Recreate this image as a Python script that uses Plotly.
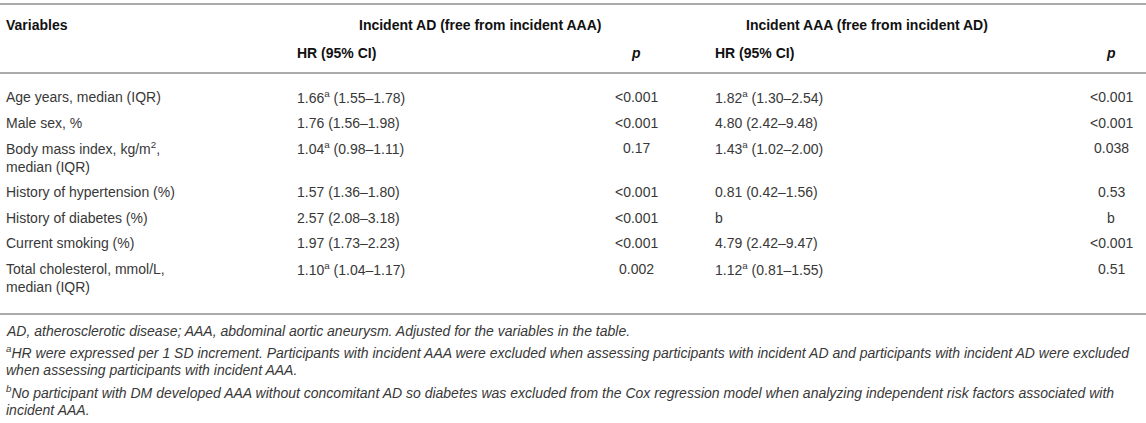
#!/usr/bin/env python3
# -*- coding: utf-8 -*-
"""Cox regression table (incident AD vs incident AAA) drawn with plotly."""

import plotly.graph_objects as go

# --- table data -------------------------------------------------------------
variables = [
    "Age years, median (IQR)",
    "Male sex, %",
    "Body mass index, kg/m<sup>2</sup>,<br>median (IQR)",
    "History of hypertension (%)",
    "History of diabetes (%)",
    "Current smoking (%)",
    "Total cholesterol, mmol/L,<br>median (IQR)",
]
hr_ad = [
    "1.66<sup>a</sup> (1.55–1.78)",
    "1.76 (1.56–1.98)",
    "1.04<sup>a</sup> (0.98–1.11)",
    "1.57 (1.36–1.80)",
    "2.57 (2.08–3.18)",
    "1.97 (1.73–2.23)",
    "1.10<sup>a</sup> (1.04–1.17)",
]
p_ad = ["<0.001", "<0.001", "0.17", "<0.001", "<0.001", "<0.001", "0.002"]
hr_aaa = [
    "1.82<sup>a</sup> (1.30–2.54)",
    "4.80 (2.42–9.48)",
    "1.43<sup>a</sup> (1.02–2.00)",
    "0.81 (0.42–1.56)",
    "b",
    "4.79 (2.42–9.47)",
    "1.12<sup>a</sup> (0.81–1.55)",
]
p_aaa = ["<0.001", "<0.001", "0.038", "0.53", "b", "<0.001", "0.51"]

group_titles = ["Incident AD (free from incident AAA)",
                "Incident AAA (free from incident AD)"]
sub_titles = ["HR (95% CI)", "<i>p</i>", "HR (95% CI)", "<i>p</i>"]

footnotes = [
    "AD, atherosclerotic disease; AAA, abdominal aortic aneurysm. Adjusted for the variables in the table.",
    "<sup>a</sup>HR were expressed per 1 SD increment. Participants with incident AAA were excluded when "
    "assessing participants with incident AD and participants with incident AD were excluded",
    "when assessing participants with incident AAA.",
    "<sup>b</sup>No participant with DM developed AAA without concomitant AD so diabetes was excluded "
    "from the Cox regression model when analyzing independent risk factors associated with",
    "incident AAA.",
]

# --- layout helpers ---------------------------------------------------------
W, H = 1146, 423
FONT = "Liberation Sans, Arial, Helvetica, sans-serif"
TXT = "#383838"
HEAD = "#111111"
RULE = "#ababab"

col_var = 4
col_hr_ad = 295
col_p_ad = 636
col_hr_aaa = 713
col_p_aaa = 1111

fig = go.Figure()
ann = []


def cell(x, y, text, anchor="left", color=TXT, size=14, bold=False):
    if bold:
        text = "<b>" + text + "</b>"
    ann.append(dict(x=x, y=y, xref="x", yref="y", text=text, showarrow=False,
                    xanchor=anchor, yanchor="middle",
                    font=dict(family=FONT, size=size, color=color)))


# header
cell(col_var, 25, "Variables", color=HEAD, bold=True)
cell(480, 25, group_titles[0], anchor="center", color=HEAD, bold=True)
cell(867, 25, group_titles[1], anchor="center", color=HEAD, bold=True)
cell(col_hr_ad, 53, sub_titles[0], color=HEAD, bold=True)
cell(col_p_ad, 53, sub_titles[1], anchor="center", color=HEAD, bold=True)
cell(col_hr_aaa, 53, sub_titles[2], color=HEAD, bold=True)
cell(col_p_aaa, 53, sub_titles[3], anchor="center", color=HEAD, bold=True)

# body rows
y = 97
pitch, inner = 25.5, 18.5
for i, var in enumerate(variables):
    two = "<br>" in var
    line1, line2 = (var.split("<br>") + [""])[:2]
    cell(col_var, y, line1)
    if two:
        cell(col_var, y + inner, line2)
    cell(col_hr_ad, y, hr_ad[i])
    cell(col_p_ad, y, p_ad[i], anchor="center")
    cell(col_hr_aaa, y, hr_aaa[i])
    cell(col_p_aaa, y, p_aaa[i], anchor="center")
    y += pitch + (inner if two else 0)

# footnotes
foot_y = [331, 352, 370, 392, 410]
for fy, note in zip(foot_y, footnotes):
    cell(col_var, fy, "<i>" + note + "</i>", size=14)

# horizontal rules
for ry in [4, 73, 314]:
    fig.add_shape(type="line", x0=0, x1=W, y0=ry, y1=ry, xref="x", yref="y",
                  line=dict(color=RULE, width=2))

fig.update_layout(
    width=W, height=H,
    margin=dict(l=0, r=0, t=0, b=0),
    paper_bgcolor="white", plot_bgcolor="white",
    xaxis=dict(range=[0, W], visible=False, fixedrange=True),
    yaxis=dict(range=[H, 0], visible=False, fixedrange=True),
    annotations=ann,
    showlegend=False,
)

# drop the browser's default body margin so the table sits at the page corner
fig.write_html("out.html",
               config={"displayModeBar": False},
               post_script="document.body.style.margin='0';"
                           "document.body.style.overflow='hidden';")
